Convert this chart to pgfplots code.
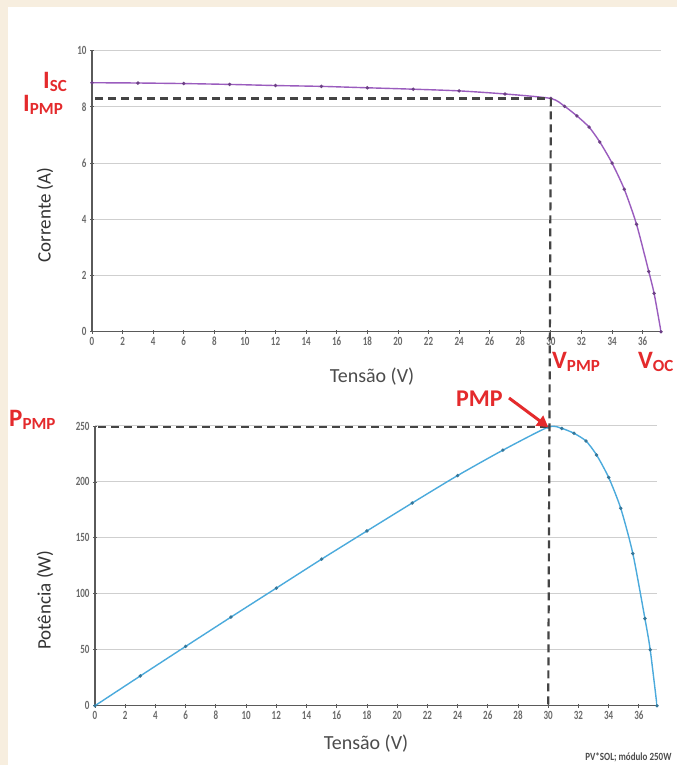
\documentclass[border=0pt]{standalone}
\usepackage{fontspec}
\setmainfont{Carlito}
\usepackage{pgfplots}
\usepackage{pgfplotstable}
\pgfplotsset{compat=1.18}
\usetikzlibrary{arrows.meta}
\definecolor{beige}{HTML}{F7EEDF}
\definecolor{pvred}{HTML}{E42A2C}
\definecolor{ivpurple}{HTML}{9A5CBE}
\definecolor{pvblue}{HTML}{4BAADC}
\definecolor{axgray}{HTML}{5A5A5A}
\definecolor{gridgray}{HTML}{CFCFCF}
\definecolor{dashgray}{HTML}{444444}

\pgfplotstableread{
V I P
0 8.86 0
3 8.85 26.6
6 8.83 53.0
9 8.80 79.2
12 8.76 105.1
15 8.73 131.0
18 8.68 156.2
21 8.63 181.2
24 8.57 205.7
27 8.46 228.4
30 8.30 249.0
30.9 8.02 247.8
31.7 7.68 243.5
32.5 7.28 236.6
33.2 6.75 224.1
34.0 6.00 204.0
34.8 5.07 176.4
35.6 3.82 136.0
36.4 2.14 77.9
36.75 1.36 50.0
37.2 0 0
}\ivdata

\pgfplotsset{
  pvstyle/.style={
    scale only axis,
    axis x line*=bottom,
    axis y line*=left,
    axis line style={color=axgray, line width=1.2pt},
    ymajorgrids,
    grid style={color=gridgray, line width=1pt},
    tick style={color=axgray, line width=0.8pt},
    tick align=center,
    major tick length=4pt,
    xtick={0,2,...,36},
    /pgf/number format/assume math mode=true,
    ticklabel style={font=\fontsize{12.5}{13}\selectfont\bfseries, color=black!58},
    xticklabel={\scalebox{0.72}[1]{\pgfmathprintnumber{\tick}}},
    yticklabel={\scalebox{0.72}[1]{\pgfmathprintnumber{\tick}}},
    xmin=0, xmax=37.2,
  }
}

\newcommand{\redlab}[2]{\textcolor{pvred}{\bfseries\fontsize{25}{25}\selectfont #1\fontsize{17}{17}\selectfont\raisebox{-3pt}{#2}}}

\begin{document}
\begin{tikzpicture}[x=1pt,y=1pt]
\useasboundingbox (0,0) rectangle (677,765);
\fill[beige] (0,0) rectangle (677,765);
\fill[white] (8,0) rectangle (677,758);

% ---------- top: I-V curve ----------
\begin{axis}[pvstyle,
  at={(92pt,433.3pt)}, anchor=south west,
  width=569pt, height=281pt,
  ymin=0, ymax=10, ytick={0,2,...,10},
]
\addplot[color=ivpurple, line width=1.4pt, smooth, tension=0.4,
  mark=*, mark size=0.9pt, mark options={fill=ivpurple!70!black, draw=ivpurple!70!black}]
  table[x=V, y=I] {\ivdata};
\draw[dashgray, line width=2.2pt, dash pattern=on 8pt off 5pt] (axis cs:0.2,8.3) -- (axis cs:30,8.3);
\coordinate (topP) at (axis cs:30,8.3);
\end{axis}

% ---------- bottom: P-V curve ----------
\begin{axis}[pvstyle,
  at={(95pt,59.3pt)}, anchor=south west,
  width=562pt, height=279.7pt,
  ymin=0, ymax=250, ytick={0,50,...,250},
]
\addplot[color=pvblue, line width=1.4pt, smooth, tension=0.4,
  mark=*, mark size=0.9pt, mark options={fill=pvblue!70!black, draw=pvblue!70!black}]
  table[x=V, y=P] {\ivdata};
\draw[dashgray, line width=2.2pt, dash pattern=on 8pt off 5pt] (axis cs:0.2,249) -- (axis cs:30,249);
\coordinate (botP) at (axis cs:30,249);
\coordinate (botO) at (axis cs:30,0);
\end{axis}

\draw[dashgray, line width=2.2pt, dash pattern=on 8pt off 5pt] (topP) -- (botO);

% axis labels
\node[rotate=90, font=\fontsize{19}{20}\selectfont, color=black!80] at (45,550) {Corrente (A)};
\node[rotate=90, font=\fontsize{19}{20}\selectfont, color=black!80] at (45,165) {Potência (W)};
\node[font=\fontsize{20}{21}\selectfont, color=black!70] at (372,388) {Tensão (V)};
\node[font=\fontsize{20}{21}\selectfont, color=black!70] at (366,21) {Tensão (V)};

% red annotations
\node[anchor=base west, inner sep=0pt] at (43,676) {\redlab{I}{SC}};
\node[anchor=base west, inner sep=0pt] at (23,653) {\redlab{I}{PMP}};
\node[anchor=base west, inner sep=0pt] at (552,396) {\redlab{V}{PMP}};
\node[anchor=base west, inner sep=0pt] at (638,396) {\redlab{V}{OC}};
\node[anchor=base west, inner sep=0pt] at (9,338) {\redlab{P}{PMP}};
\node[anchor=base west, inner sep=0pt, text=pvred, font=\bfseries\fontsize{24}{24}\selectfont] at (456,358) {PMP};
\draw[pvred, line width=3pt, -{Triangle[length=11pt, width=12pt]}] (509,367) -- (botP);

% source note
\node[anchor=east, font=\fontsize{11}{12}\selectfont\bfseries, color=black!70] at (675,8) {\scalebox{0.82}[1]{PV*SOL; módulo 250W}};
\end{tikzpicture}
\end{document}
